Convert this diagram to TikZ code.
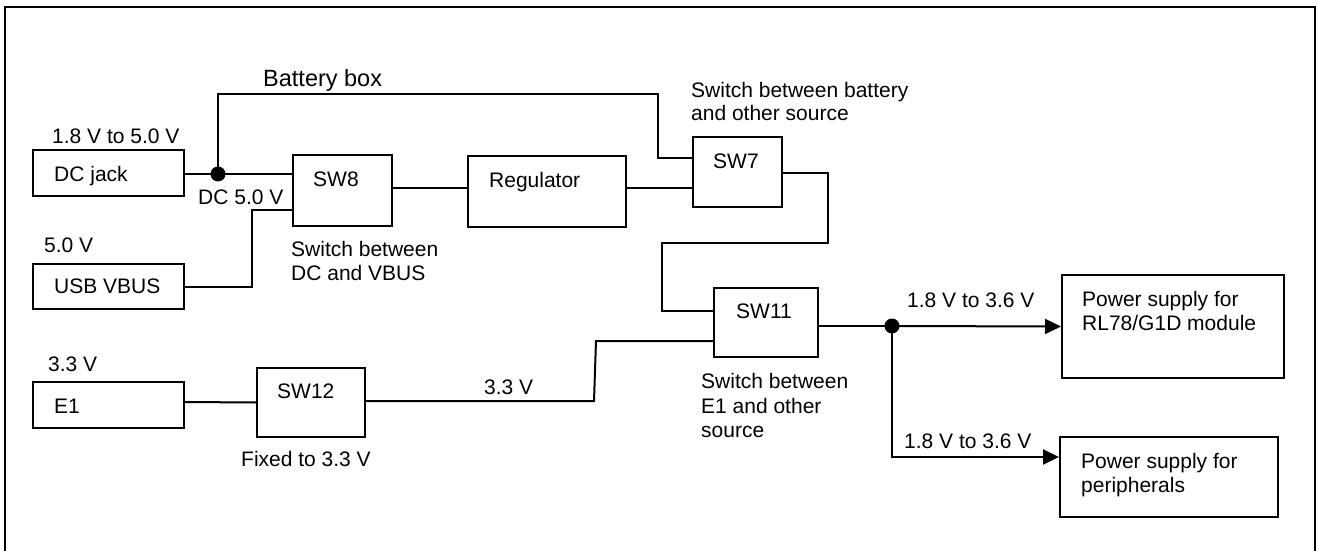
\documentclass[tikz,border=0pt]{standalone}
\usepackage{fontspec}
\setmainfont{Liberation Sans}
\usetikzlibrary{arrows.meta}
\begin{document}
\begin{tikzpicture}[x=1pt,y=-1pt,
  box/.style={draw, line width=2pt, inner sep=0pt, rectangle},
  txt/.style={anchor=base west, inner sep=0pt, font=\fontsize{21}{24.5}\selectfont},
  wire/.style={line width=2pt},
  jdot/.style={circle, fill, inner sep=0pt, minimum size=15pt},
  arr/.style={wire, -{Triangle[length=16pt,width=15pt]}}
]
\useasboundingbox (0,0) rectangle (1318,551);
% frame
\draw[line width=2.5pt] (5,551) -- (5,7) -- (1315,7) -- (1315,551);

% boxes
\node[box, minimum width=151pt, minimum height=46pt] (dcjack) at (108.5,173) {};
\node[box, minimum width=151pt, minimum height=45pt] (usb) at (108.5,286.5) {};
\node[box, minimum width=151pt, minimum height=46pt] (e1) at (108.5,405) {};
\node[box, minimum width=99pt, minimum height=71pt] (sw8) at (342.5,190.5) {};
\node[box, minimum width=158pt, minimum height=71pt] (reg) at (547,191.5) {};
\node[box, minimum width=89pt, minimum height=70pt] (sw7) at (737.5,172) {};
\node[box, minimum width=104pt, minimum height=69pt] (sw11) at (766,322.5) {};
\node[box, minimum width=108pt, minimum height=69pt] (sw12) at (311,402.5) {};
\node[box, minimum width=222pt, minimum height=103pt] (rl78) at (1173,326.5) {};
\node[box, minimum width=218pt, minimum height=80pt] (periph) at (1169,477) {};

% texts in boxes
\node[txt] (tdc) at (54,181) {DC jack};
\node[txt] (tusb) at (54,293) {USB VBUS};
\node[txt] (te1) at (54,413) {E1};
\node[txt] (tsw8) at (313,186) {SW8};
\node[txt] (treg) at (489,187) {Regulator};
\node[txt] (tsw7) at (713,168) {SW7};
\node[txt] (tsw11) at (736,318) {SW11};
\node[txt] (tsw12) at (277,398) {SW12};
\node[txt] (trla) at (1082,306) {Power supply for};
\node[txt] (trlb) at (1082,330) {RL78/G1D module};
\node[txt] (tpera) at (1081,468) {Power supply for};
\node[txt] (tperb) at (1081,492) {peripherals};

% labels
\node[txt] (l1) at (52,143) {1.8 V to 5.0 V};
\node[txt, font=\fontsize{23.5}{27}\selectfont] (lbat) at (263,87) {Battery box};
\node[txt] (ldc5) at (198,204) {DC 5.0 V};
\node[txt] (l5) at (44,252) {5.0 V};
\node[txt] (lsw8a) at (291,256) {Switch between};
\node[txt] (lsw8b) at (291,280) {DC and VBUS};
\node[txt] (lsw7a) at (691,97) {Switch between battery};
\node[txt] (lsw7b) at (691,121) {and other source};
\node[txt] (lsw11a) at (701,388) {Switch between};
\node[txt] (lsw11b) at (701,413) {E1 and other};
\node[txt] (lsw11c) at (701,437.5) {source};
\node[txt] (l33a) at (48,371) {3.3 V};
\node[txt] (lfix) at (241,466) {Fixed to 3.3 V};
\node[txt] (l33b) at (484,394) {3.3 V};
\node[txt] (lo1) at (907,307) {1.8 V to 3.6 V};
\node[txt] (lo2) at (904,448) {1.8 V to 3.6 V};

% junctions
\node[jdot] (dot1) at (218,174) {};
\node[jdot] (dot2) at (892,326) {};
\coordinate (bt) at (658,94);
\coordinate (ub) at (252,210);
\coordinate (k1) at (828,243);
\coordinate (k2) at (662,311);
\coordinate (k3) at (594,401);
\coordinate (k4) at (596,341);

% connectors
\draw[wire] (dot1 -| dcjack.east) -- (dot1.center) -- (dot1 -| sw8.west);
\draw[wire] (dot1.center) |- (bt) |- ([yshift=14pt]sw7.west);
\draw[wire] (usb.east) -| (ub) -- (ub -| sw8.west);
\draw[wire] ([yshift=2.5pt]sw8.east) -- ([yshift=3.5pt]reg.west);
\draw[wire] ([yshift=3.5pt]reg.east) -- ([yshift=-16pt]sw7.west);
\draw[wire] ([yshift=-1pt]sw7.east) -| (k1) -| (k2) -- (k2 -| sw11.west);
\draw[wire] ([yshift=3pt]e1.east) -- (sw12.west);
\draw[wire] ([yshift=1.5pt]sw12.east) -- (k3) -- (k4) -- (k4 -| sw11.west);
\draw[wire] (dot2 -| sw11.east) -- (dot2.center);
\draw[arr] (dot2.center) -- (rl78.west);
\draw[arr] (dot2.center) |- ([yshift=20pt]periph.west);
\end{tikzpicture}
\end{document}
